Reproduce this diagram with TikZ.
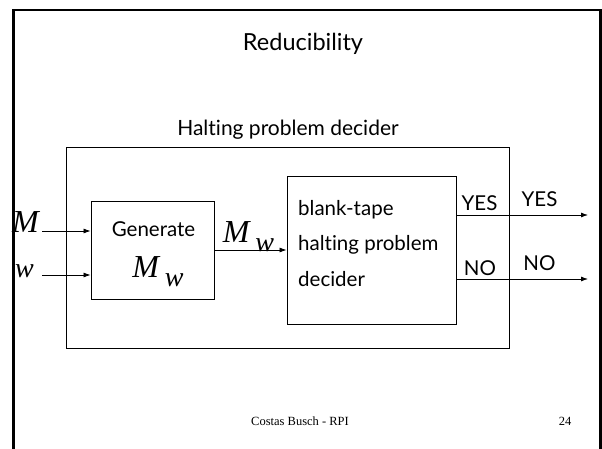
\documentclass[tikz,border=0pt]{standalone}
\usepackage{fontspec}
\setmainfont{Lato}[Ligatures=NoCommon]
\newfontfamily\serifit{Liberation Serif}
\usetikzlibrary{arrows.meta}

% italic symbol M with a lowered w beside it
\newcommand{\symM}{{\serifit\itshape\fontsize{32}{32}\selectfont M}}
\newcommand{\symw}{{\serifit\itshape\fontsize{28}{28}\selectfont w}}
\newcommand{\symMw}{\symM\hspace{6pt}\raisebox{-9pt}{\symw}}

\begin{document}
\begin{tikzpicture}[x=1pt,y=-1pt,
  blk/.style={draw, line width=0.9pt, inner sep=0pt, rectangle},
  arr/.style={line width=0.8pt, -{Latex[length=7pt,width=5pt]}},
  body/.style={font=\fontsize{20.5}{24}\selectfont, inner sep=0pt},
  sym/.style={inner sep=0pt, anchor=base},
  foot/.style={font=\serifit\fontsize{12.5}{14}\selectfont, inner sep=0pt}]
\useasboundingbox (0,0) rectangle (602,449);

% slide frame, open at the bottom
\draw[line width=2.6pt] (13.5,455) -- (13.5,10) -- (600.5,10) -- (600.5,455);

% title and caption
\node[font=\fontsize{23.5}{26}\selectfont, inner sep=0pt] (title) at (303,44) {Reducibility};
\node[font=\fontsize{21}{24}\selectfont, inner sep=0pt] (cap) at (288,130) {Halting problem decider};

% boxes
\node[blk, minimum width=443pt, minimum height=201pt] (outer) at (287.5,247.5) {};
\node[blk, minimum width=123pt, minimum height=98pt] (gen) at (152.5,250) {};
\node[blk, minimum width=169pt, minimum height=148pt] (dec) at (371.5,250) {};

% box contents
\node[body] (gentxt) at (153.5,229) {Generate};
\node[sym] (genMw) at (158,277) {\symMw};
\node[body, anchor=base west, align=left, font=\fontsize{20.5}{35.5}\selectfont] (dectxt) at (298,286)
  {blank-tape\\halting problem\\decider};

% inputs
\coordinate (mIn) at (42,231);
\coordinate (wIn) at (42,275);
\node[sym] (labM) at (25.5,233) {\symM};
\node[sym] (labw) at (24.5,277) {\symw};
\draw[arr] (mIn) -- (mIn -| gen.west);
\draw[arr] (wIn) -- (wIn -| gen.west);

% generated machine fed to the decider
\draw[arr] (gen.east) -- (dec.west);
\node[sym] (midMw) at (248.5,242) {\symMw};

% outputs
\coordinate (yesEnd) at (588,215);
\coordinate (noEnd) at (588,279);
\draw[arr] (dec.east |- yesEnd) -- (yesEnd);
\draw[arr] (dec.east |- noEnd) -- (noEnd);
\node[body] (yesIn) at (479.5,203) {YES};
\node[body] (noIn) at (480,268) {NO};
\node[body] (yesOut) at (539.5,199) {YES};
\node[body] (noOut) at (539.5,263) {NO};

% footer
\node[foot] (ftxt) at (300,421) {Costas Busch - RPI};
\node[foot] (fnum) at (565,421) {24};
\end{tikzpicture}
\end{document}
